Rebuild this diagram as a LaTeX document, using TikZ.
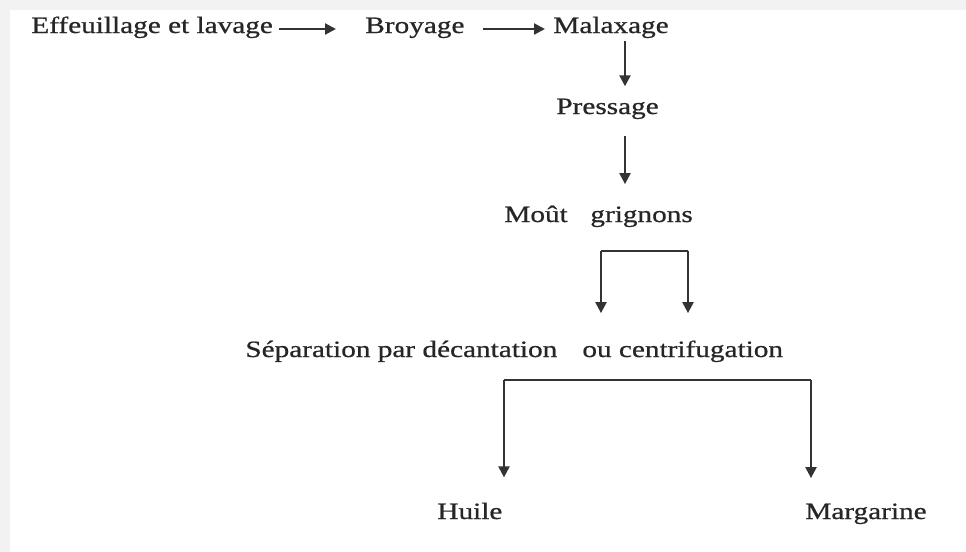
\documentclass[tikz,border=0pt]{standalone}
\usepackage{fontspec}
\setmainfont{Liberation Serif}[FakeStretch=1.25,FakeBold=0.7]
\usetikzlibrary{arrows.meta}

\tikzset{
    etape/.style={anchor=base west, inner sep=0pt, text=black!85,
        font=\fontsize{11.7pt}{14pt}\selectfont},
    flow/.style={draw=black!80, line width=1.1pt, -{Triangle[length=5.5pt,width=5.5pt]}},
}

\begin{document}
\begin{tikzpicture}[x=0.5pt,y=-0.5pt]
                    \useasboundingbox (0,0) rectangle (966,552);
                    \fill[gray!10] (0,0) rectangle (966,552);
                    \fill[white] (10,10) rectangle (966,552);

                    \node[etape] (eff) at (31,33) {Effeuillage et lavage};
                    \node[etape] (broy) at (365,33) {Broyage};
                    \node[etape] (malax) at (553,33) {Malaxage};
                    \node[etape] (press) at (556,114) {Pressage};
                    \node[etape] (mout) at (504,222) {Moût};
                    \node[etape] (grign) at (590,222) {grignons};
                    \node[etape] (sep) at (245,357) {Séparation par décantation};
                    \node[etape] (centri) at (582,357) {ou centrifugation};
                    \node[etape] (huile) at (437,519) {Huile};
                    \node[etape] (marg) at (805,519) {Margarine};

                    \coordinate (col) at (625,0);
                    \coordinate (b1l) at (601,251);
                    \coordinate (b1r) at (688,251);
                    \coordinate (b2l) at (504,380);
                    \coordinate (b2r) at (811,380);

                    \draw[flow, shorten <=3pt, shorten >=14.5pt] ([yshift=2pt]eff.base east) -- ([yshift=2pt]broy.base west);
                    \draw[flow, shorten <=9pt, shorten >=4pt] ([yshift=2pt]broy.base east) -- ([yshift=2pt]malax.base west);
                    \draw[flow, shorten <=1.5pt, shorten >=6pt] (malax.south -| col) -- (press.north -| col);
                    \draw[flow, shorten <=8.5pt, shorten >=11pt] (press.south -| col) -- (grign.north -| col);

                    \draw[flow, shorten >=13.5pt] (b1l) -- (b1l |- centri.north);
                    \draw[flow, shorten >=13.5pt] (b1r) -- (b1r |- centri.north);
                    \draw[draw=black!80, line width=1.1pt] (b1l) -- (b1r);

                    \draw[flow, shorten >=12.5pt] (b2l) -- (b2l |- huile.north);
                    \draw[flow, shorten >=12.5pt] (b2r) -- (b2r |- marg.north);
                    \draw[draw=black!80, line width=1.1pt] (b2l) -- (b2r);

                \end{tikzpicture}
\end{document}
